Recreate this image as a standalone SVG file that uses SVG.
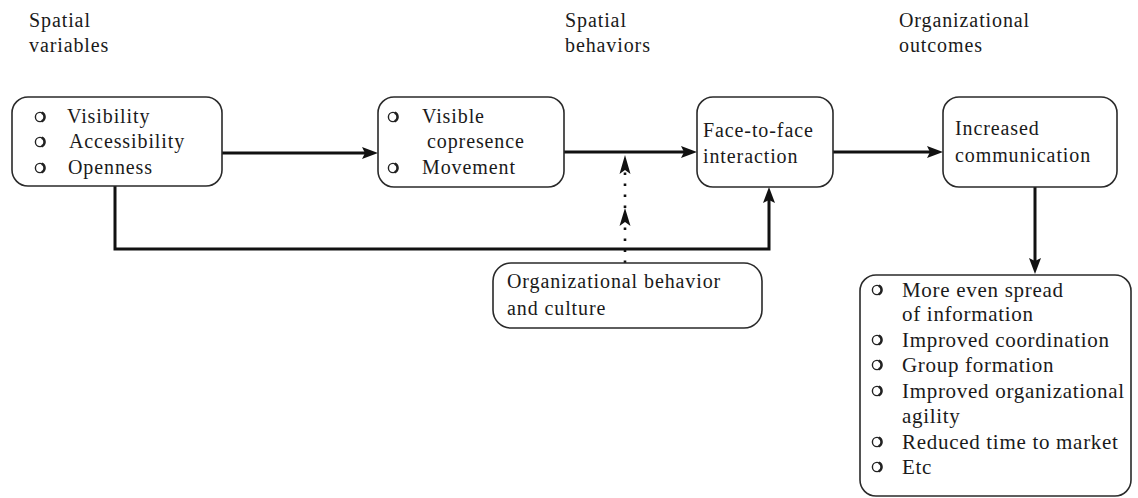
<svg xmlns="http://www.w3.org/2000/svg" width="1138" height="498" viewBox="0 0 1138 498" font-family="'Liberation Serif', 'DejaVu Serif', serif">
  <style>
    text { font-size: 20px; fill: #1a1a1a; letter-spacing: 0.9px; }
    .big { font-size: 21px; letter-spacing: 0.7px; }
    .box { fill: #ffffff; stroke: #2a2a2a; stroke-width: 1.6; }
    .flow { fill: none; stroke: #111111; stroke-width: 3; }
    .dots { fill: none; stroke: #111111; stroke-width: 2.6; stroke-dasharray: 2.5 8.5; }
    .bullet { fill: none; stroke: #222222; stroke-width: 1.4; }
    .shade { fill: none; stroke: #222222; stroke-width: 2.4; }
    .head { fill: #111111; }
  </style>
  <defs>
    <marker id="arrow" viewBox="0 0 16 12" markerWidth="16" markerHeight="12" refX="8" refY="6" orient="auto" markerUnits="userSpaceOnUse">
      <path d="M0,0 L16,6 L0,12 L3,6 z" fill="#111111"/>
    </marker>
    <!-- shadowed ring used as list bullet -->
    <g id="ring">
      <circle cx="0" cy="0" r="4.6" class="bullet"/>
      <path d="M1.6,-4.3 A4.6,4.6 0 0 1 1.6,4.3" class="shade"/>
    </g>
  </defs>

  <!-- column headings -->
  <g id="headings">
    <text x="29" y="27">Spatial</text>
    <text x="29" y="52">variables</text>
    <text x="565" y="27">Spatial</text>
    <text x="565" y="52">behaviors</text>
    <text x="899" y="27">Organizational</text>
    <text x="899" y="52">outcomes</text>
  </g>

  <!-- connectors -->
  <g id="connectors">
    <line x1="222" y1="153" x2="370" y2="153" class="flow" marker-end="url(#arrow)"/>
    <line x1="564" y1="152" x2="689" y2="152" class="flow" marker-end="url(#arrow)"/>
    <line x1="833" y1="152" x2="935" y2="152" class="flow" marker-end="url(#arrow)"/>
    <line x1="1035" y1="187" x2="1035" y2="266" class="flow" marker-end="url(#arrow)"/>
    <path d="M115,186 V249 H769 V195" class="flow" marker-end="url(#arrow)"/>
    <!-- dotted influence line with two heads -->
    <line x1="625" y1="263" x2="625" y2="172" class="dots"/>
    <path d="M625,208 L630.5,226 L625,222 L619.5,226 z" class="head"/>
    <path d="M625,155 L630.5,174 L625,170 L619.5,174 z" class="head"/>
  </g>

  <g id="spatial-variables">
    <rect x="12" y="97" width="210" height="89" rx="16" class="box"/>
    <use href="#ring" x="40" y="117"/>
    <use href="#ring" x="40" y="142"/>
    <use href="#ring" x="40" y="168"/>
    <text x="67" y="123">Visibility</text>
    <text x="69" y="148">Accessibility</text>
    <text x="68" y="174">Openness</text>
  </g>

  <g id="spatial-behaviors">
    <rect x="378" y="97" width="186" height="90" rx="16" class="box"/>
    <use href="#ring" x="393" y="117"/>
    <use href="#ring" x="393" y="168"/>
    <text x="422" y="123">Visible</text>
    <text x="427" y="148">copresence</text>
    <text x="422" y="174">Movement</text>
  </g>

  <g id="face-to-face">
    <rect x="697" y="97" width="136" height="90" rx="16" class="box"/>
    <text x="703" y="137">Face-to-face</text>
    <text x="703" y="163">interaction</text>
  </g>

  <g id="communication">
    <rect x="943" y="97" width="174" height="90" rx="16" class="box"/>
    <text x="955" y="135">Increased</text>
    <text x="955" y="162">communication</text>
  </g>

  <g id="org-behavior">
    <rect x="493" y="263" width="269" height="65" rx="18" class="box"/>
    <text x="507" y="288">Organizational behavior</text>
    <text x="507" y="315">and culture</text>
  </g>

  <g id="outcomes">
    <rect x="860" y="275" width="271" height="221" rx="16" class="box"/>
    <use href="#ring" x="877" y="290"/>
    <use href="#ring" x="877" y="340"/>
    <use href="#ring" x="877" y="365"/>
    <use href="#ring" x="877" y="391"/>
    <use href="#ring" x="877" y="442"/>
    <use href="#ring" x="877" y="467"/>
    <text class="big" x="902" y="297">More even spread</text>
    <text class="big" x="902" y="321">of information</text>
    <text class="big" x="902" y="347">Improved coordination</text>
    <text class="big" x="902" y="372">Group formation</text>
    <text class="big" x="902" y="398">Improved organizational</text>
    <text class="big" x="902" y="423">agility</text>
    <text class="big" x="902" y="449">Reduced time to market</text>
    <text class="big" x="902" y="474">Etc</text>
  </g>
</svg>
